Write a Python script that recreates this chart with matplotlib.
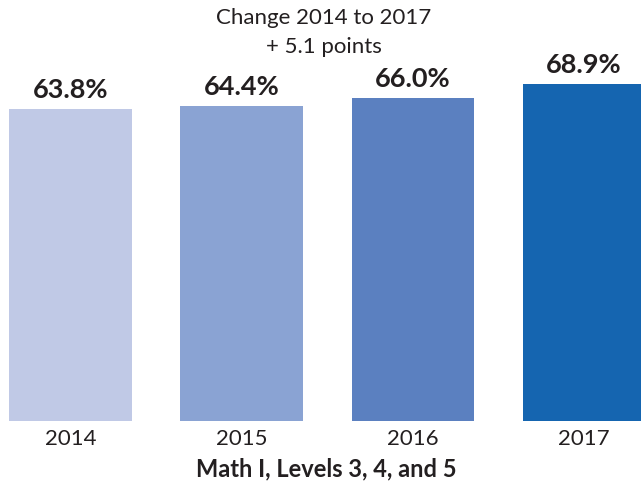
import matplotlib
matplotlib.use('Agg')
import matplotlib.pyplot as plt
import numpy as np

# data
years = ['2014', '2015', '2016', '2017']
pct = [63.8, 64.4, 66.0, 68.9]
labels = ['63.8%', '64.4%', '66.0%', '68.9%']
colors = ['#c0c9e6', '#8aa3d3', '#5b80c0', '#1565b0']
title_lines = ['Change 2014 to 2017', '+ 5.1 points']
xlabel = 'Math I, Levels 3, 4, and 5'

plt.rcParams['font.family'] = ['Lato', 'DejaVu Sans']
txt = '#231f20'

fig = plt.figure(figsize=(6.41, 4.84), dpi=100)
ax = fig.add_axes([0, 63/484, 1, 421/484])

x = np.arange(len(years))
ax.bar(x, pct, width=0.714, color=colors, zorder=2)

for xi, v, lab in zip(x, pct, labels):
    ax.annotate(lab, (xi, v), xytext=(0, 5), textcoords='offset points',
                ha='center', va='bottom', fontsize=19.5, fontweight='bold', color=txt)

ax.set_xlim(-0.412, 3.335)
ax.set_ylim(0, 86.1)
ax.set_axis_off()

# year ticks below the bars
for xi, y in zip(x, years):
    fig.text((70.5 + 171*xi)/641, 1 - 439/484, y, ha='center', va='center',
             fontsize=16, color=txt)

fig.text(324/641, 1 - 18/484, title_lines[0], ha='center', va='center', fontsize=16, color=txt)
fig.text(324/641, 1 - 47/484, title_lines[1], ha='center', va='center', fontsize=16, color=txt)
fig.text(326/641, 1 - 469/484, xlabel, ha='center', va='center', fontsize=17,
         fontweight='bold', color=txt)

fig.savefig('out.png', dpi=100)
